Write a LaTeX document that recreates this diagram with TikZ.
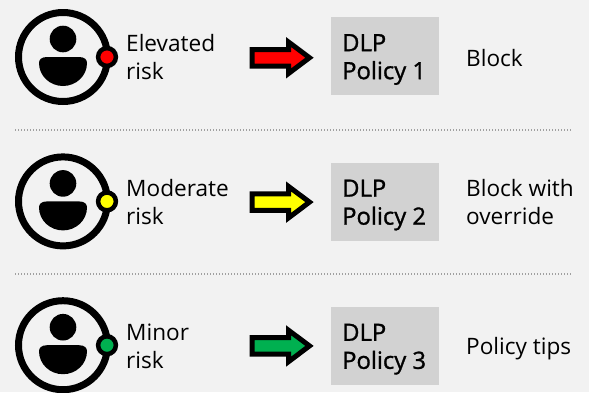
\documentclass[tikz,border=0pt]{standalone}
\usepackage{fontspec}
\setmainfont{Open Sans}
\definecolor{bgc}{HTML}{F2F2F2}
\definecolor{boxc}{HTML}{D2D2D2}
\definecolor{dotc}{HTML}{A0A0A0}
\definecolor{ered}{HTML}{FF0000}
\definecolor{myel}{HTML}{FFFF00}
\definecolor{mgrn}{HTML}{00B050}
\tikzset{
  x=1pt,y=-1pt,
  lbl/.style={font=\fontsize{22.6}{28}\selectfont,align=left,anchor=west,inner sep=0pt,text=black},
  boxlbl/.style={font=\fontsize{23.8}{28}\selectfont\addfontfeature{FakeBold=1.2},align=left,anchor=west,inner sep=0pt,text=black},
  policybox/.style={fill=boxc,minimum width=108pt,minimum height=78pt,inner sep=0pt},
  ring/.style={draw=black,line width=7pt,fill=none},
  sep/.style={draw=dotc,line width=1.4pt,dash pattern=on 1.4pt off 1.6pt},
}
\newcommand{\riskrow}[8]{%
  \begin{scope}[shift={(0,#1)}]
    \draw[ring] (63,57) circle[radius=44.5];
    \fill (63,39) circle[radius=13.3];
    \fill (47,57) -- (79,57) .. controls (85,57) and (87,60) .. (87,63)
      .. controls (87,76) and (76,86) .. (63,86)
      .. controls (50,86) and (39,76) .. (39,63)
      .. controls (39,60) and (41,57) .. (47,57) -- cycle;
    \draw[draw=black,fill=#2,line width=4.5pt] (107,57) circle[radius=8.9];
    \draw[draw=black,fill=#2,line width=5pt,miter limit=10,line join=miter]
      (252,49.5) -- (288.5,49.5) -- (288.5,42) -- (309.5,57.7) -- (288.5,73.5)
      -- (288.5,66) -- (252,66) -- cycle;
  \end{scope}
  \begin{scope}[shift={(0,#8)}]
    \node[lbl] (risk#6) at (126,57) {#3};
    \node[policybox] (box#6) at (385,56) {};
    \node[boxlbl] (pol#6) at (342,59.5) {DLP\\Policy #4};
    \node[lbl] (act#6) at (466,#7) {#5};
  \end{scope}}
\begin{document}
\begin{tikzpicture}
\useasboundingbox[fill=bgc] (0,0) rectangle (589,392);
\riskrow{0}{ered}{Elevated\\risk}{1}{Block}{a}{58.5}{0}
\riskrow{144.4}{myel}{Moderate\\risk}{2}{Block with\\override}{b}{57}{145.5}
\riskrow{288.2}{mgrn}{Minor\\risk}{3}{Policy tips}{c}{59}{289.7}
\coordinate (s1a) at (15,130);
\coordinate (s1b) at (572,130);
\coordinate (s2a) at (15,274);
\coordinate (s2b) at (572,274);
\draw[sep] (s1a) -- (s1b);
\draw[sep] (s2a) -- (s2b);
\end{tikzpicture}
\end{document}
